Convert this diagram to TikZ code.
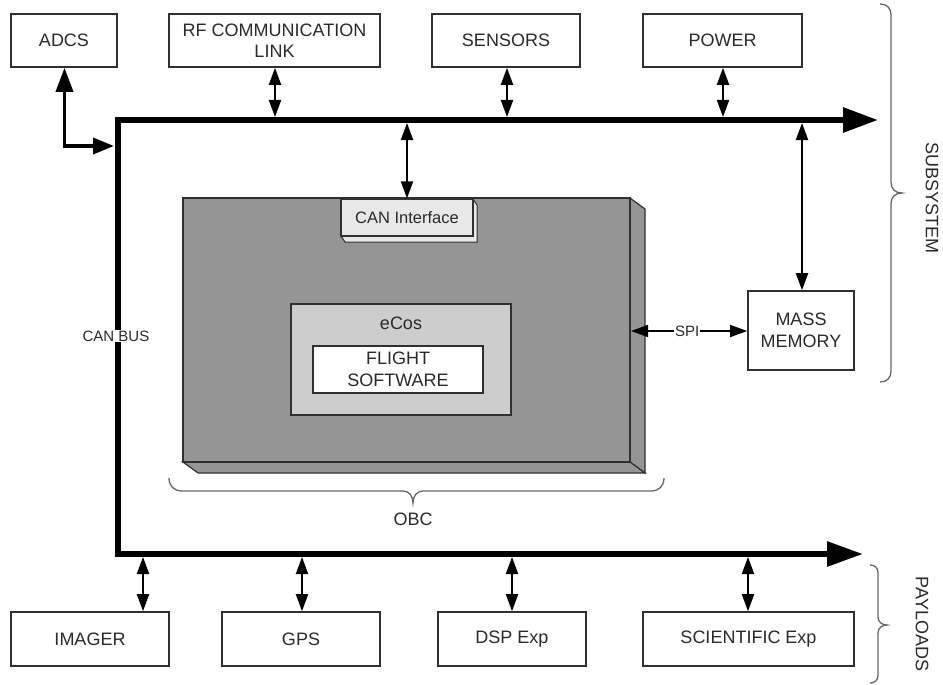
\documentclass[tikz,border=0pt]{standalone}
\usepackage{fontspec}
\setmainfont{Liberation Sans}
\usetikzlibrary{arrows.meta}
\definecolor{txt}{HTML}{2A2A2A}
\definecolor{edge}{HTML}{303030}
\definecolor{obcgray}{HTML}{959595}
\definecolor{osgray}{HTML}{CDCDCD}
\definecolor{cangray}{HTML}{E8E8E8}
\begin{document}
\begin{tikzpicture}[x=1pt,y=-1pt,
  box/.style={draw=edge,line width=1.6pt,fill=white,text=txt,
    font=\fontsize{18}{21.5}\selectfont,align=center,inner sep=0pt,minimum height=53pt},
  dbl/.style={line width=2pt,{Triangle[length=17pt,width=12pt]}-{Triangle[length=17pt,width=12pt]}},
  bus/.style={line width=6pt,line join=miter,{Triangle[length=35pt,width=24pt]}-{Triangle[length=36pt,width=24pt]}},
  brace/.style={draw=black!60,line width=1.3pt},
  lbl/.style={text=txt,font=\fontsize{18}{21.5}\selectfont,inner sep=1pt},
  small/.style={text=txt,font=\fontsize{15}{18}\selectfont,fill=white,inner sep=1pt}
]
\useasboundingbox (0,0) rectangle (943,685);

% top boxes
\node[box,minimum width=106pt] (adcs) at (64,40.5) {ADCS};
\node[box,minimum width=211pt] (rf) at (274.5,40.5) {RF COMMUNICATION\\LINK};
\node[box,minimum width=148pt] (sensors) at (506,40.5) {SENSORS};
\node[box,minimum width=159pt] (power) at (722.5,40.5) {POWER};
% bottom boxes
\node[box,minimum width=158pt,minimum height=54pt] (imager) at (90,639) {IMAGER};
\node[box,minimum width=158pt,minimum height=54pt] (gps) at (301,639) {GPS};
\node[box,minimum width=148pt,minimum height=54pt] (dsp) at (512,639) {DSP Exp};
\node[box,minimum width=211pt,minimum height=54pt] (sci) at (748.5,639) {SCIENTIFIC Exp};
% mass memory
\node[box,minimum width=106pt,minimum height=79pt] (mass) at (801,330.5) {MASS\\MEMORY};

% OBC 3D box
\fill[obcgray,draw=edge,line width=1.2pt] (630,198) -- (645,209) -- (645,473) -- (630,462) -- cycle;
\fill[obcgray,draw=edge,line width=1.2pt] (183,462) -- (198,473) -- (645,473) -- (630,462) -- cycle;
\node[draw=edge,line width=1.4pt,fill=obcgray,minimum width=447pt,minimum height=264pt,inner sep=0pt] (obc) at (406.5,330) {};
% CAN interface
\fill[cangray,draw=edge,line width=1pt] (341,236) -- (345,242) -- (477,242) -- (477,205) -- (473,199) -- (473,236) -- cycle;
\node[draw=edge,line width=1.2pt,fill=cangray,minimum width=132pt,minimum height=37pt,inner sep=0pt,text=txt,font=\fontsize{16.5}{20}\selectfont] (canif) at (407,217.5) {CAN Interface};
% eCos
\node[draw=edge,line width=1.3pt,fill=osgray,minimum width=220pt,minimum height=111pt,inner sep=0pt] (ecos) at (401,359.5) {};
\node[lbl] (ecoslbl) at (401,323) {eCos};
\node[box,line width=1.3pt,minimum width=170pt,minimum height=47pt] (fsw) at (398,369.5) {FLIGHT\\SOFTWARE};

% bus
\coordinate (topend) at (878,120);
\coordinate (corner1) at (118,120);
\coordinate (corner2) at (118,554);
\coordinate (botend) at (863,554);
\draw[bus] (topend) -- (corner1) -- (corner2) -- (botend);
\node[small] (canbus) at (116,336) {CAN BUS};

% ADCS connector
\coordinate (adcsk) at (64.5,146);
\coordinate (adcsend) at (114,146);
\draw[line width=3.5pt,line join=miter,{Triangle[length=24pt,width=17pt]}-{Triangle[length=21pt,width=16pt]}]
  (adcs.south -| adcsk) -- (adcsk) -- (adcsend);

% top arrows
\coordinate (trf) at (275,117);
\coordinate (tsen) at (507,117);
\coordinate (tpow) at (723,117);
\draw[dbl] (rf.south -| trf) -- (trf);
\draw[dbl] (sensors.south -| tsen) -- (tsen);
\draw[dbl] (power.south -| tpow) -- (tpow);
\coordinate (tcan) at (407,123);
\draw[dbl] (tcan) -- (canif.north -| tcan);
\coordinate (tmass) at (802,123);
\draw[dbl] (tmass) -- (mass.north -| tmass);

% bottom arrows
\coordinate (bim) at (143,557);
\coordinate (bgps) at (302,557);
\coordinate (bdsp) at (512,557);
\coordinate (bsci) at (748,557);
\draw[dbl] (bim) -- (imager.north -| bim);
\draw[dbl] (bgps) -- (gps.north -| bgps);
\draw[dbl] (bdsp) -- (dsp.north -| bdsp);
\draw[dbl] (bsci) -- (sci.north -| bsci);

% SPI
\coordinate (spiend) at (631,331);
\draw[dbl,line width=1.6pt] (spiend) -- (mass.west |- spiend) node[small,midway,xshift=-2pt] (spi) {SPI};

% braces
\draw[brace] (880,4) .. controls (887,4) and (891,8) .. (891,15) -- (891,182)
  .. controls (891,189) and (895,193) .. (902,193)
  .. controls (895,193) and (891,197) .. (891,204) -- (891,371)
  .. controls (891,378) and (887,382) .. (880,382);
\node[lbl,rotate=-90] (subsys) at (932,198) {SUBSYSTEM};
\draw[brace] (870,565) .. controls (875,565) and (878,568) .. (878,573) -- (878,617)
  .. controls (878,622) and (882,625) .. (887,625)
  .. controls (882,625) and (878,628) .. (878,633) -- (878,675)
  .. controls (878,680) and (875,683) .. (870,683);
\node[lbl,rotate=-90] (payl) at (922,624) {PAYLOADS};
\draw[brace] (169,478) .. controls (169,486) and (174,491) .. (182,491) -- (403,491)
  .. controls (409,491) and (413,496) .. (413,503)
  .. controls (413,496) and (417,491) .. (423,491) -- (651,491)
  .. controls (659,491) and (664,486) .. (664,478);
\node[lbl] (obclbl) at (413,519) {OBC};
\end{tikzpicture}
\end{document}
